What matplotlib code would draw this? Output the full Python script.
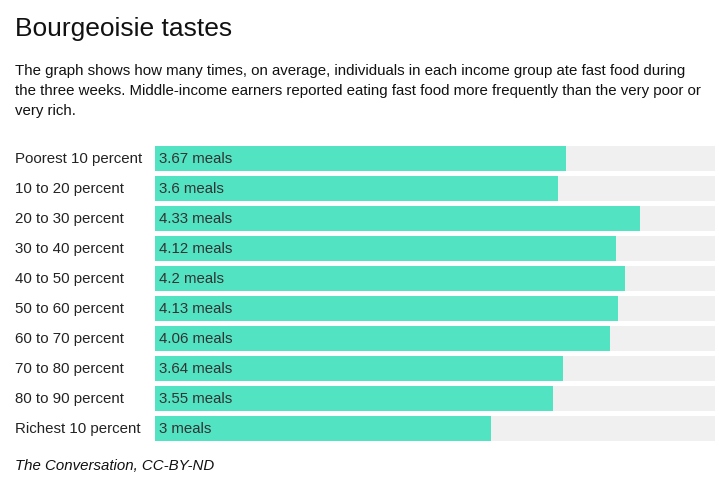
import matplotlib.pyplot as plt

plt.rcParams['font.family'] = ['Liberation Sans', 'DejaVu Sans']

groups = ["Poorest 10 percent", "10 to 20 percent", "20 to 30 percent", "30 to 40 percent",
          "40 to 50 percent", "50 to 60 percent", "60 to 70 percent", "70 to 80 percent",
          "80 to 90 percent", "Richest 10 percent"]
meals = [3.67, 3.6, 4.33, 4.12, 4.2, 4.13, 4.06, 3.64, 3.55, 3]
labels = ["3.67 meals", "3.6 meals", "4.33 meals", "4.12 meals", "4.2 meals",
          "4.13 meals", "4.06 meals", "3.64 meals", "3.55 meals", "3 meals"]
max_val = 5

W, H = 719, 488
fig = plt.figure(figsize=(W / 100, H / 100), dpi=100)

# axes placed in pixel terms: bars from x=155 to 715, rows 30px apart
top = 143.5
ax = fig.add_axes([155 / W, 1 - (top + 300) / H, 560 / W, 300 / H])
ypos = list(range(len(groups)))
ax.barh(ypos, [max_val] * len(groups), height=25 / 30, color="#f0f0f0", left=0)
ax.barh(ypos, meals, height=25 / 30, color="#52e3c2")
ax.set_xlim(0, max_val)
ax.set_ylim(len(groups) - 0.5, -0.5)
ax.axis("off")

for i, (g, lab) in enumerate(zip(groups, labels)):
    ax.text(0.035, i - 0.03, lab, va="center_baseline", ha="left", fontsize=10.8, color="#333333")
    fig.text(15 / W, 1 - (top + 14.5 + 30 * i) / H, g, va="center_baseline", ha="left",
             fontsize=10.8, color="#222222")

fig.text(15 / W, 1 - 29 / H, "Bourgeoisie tastes", fontsize=19, va="center", ha="left",
         color="#111111")
subtitle = ("The graph shows how many times, on average, individuals in each income group ate fast food during\n"
            "the three weeks. Middle-income earners reported eating fast food more frequently than the very poor or\n"
            "very rich.")
fig.text(15 / W, 1 - 63.5 / H, subtitle, fontsize=10.8, va="top", ha="left", color="#111111",
         linespacing=1.55)
fig.text(15 / W, 1 - 466 / H, "The Conversation, CC-BY-ND", fontsize=10.8, style="italic",
         va="center", ha="left", color="#111111")

fig.savefig("out.png", dpi=100)
